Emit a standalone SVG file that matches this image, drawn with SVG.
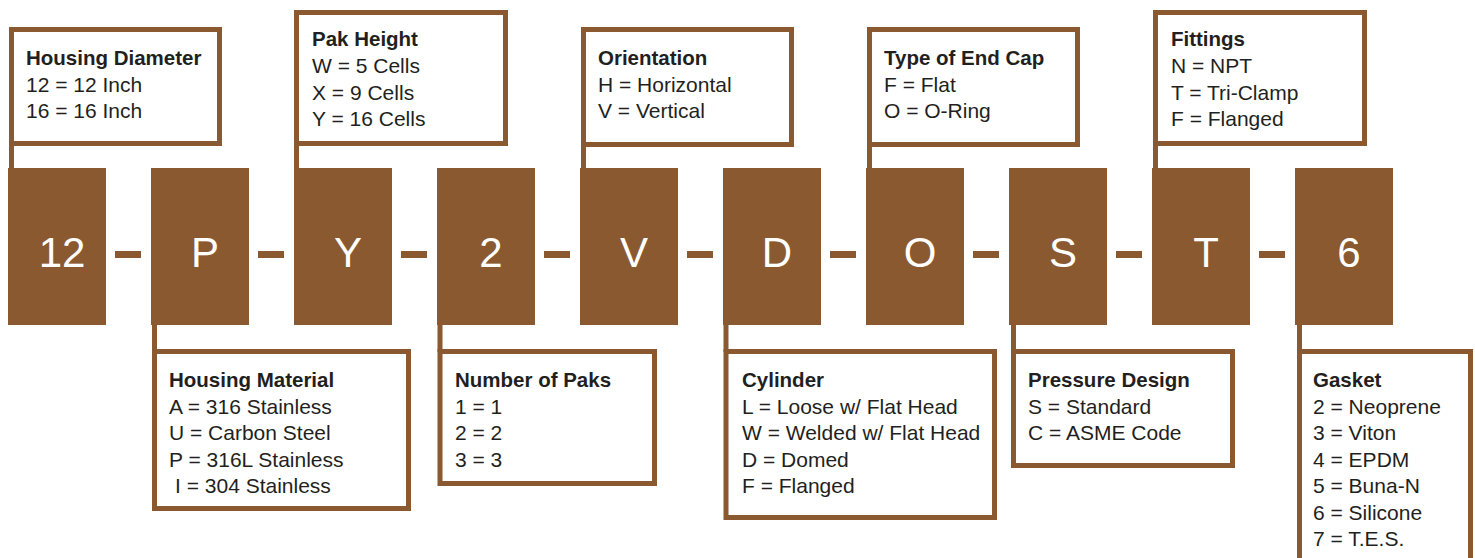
<svg xmlns="http://www.w3.org/2000/svg" width="1475" height="558" viewBox="0 0 1475 558">
<style>
.node{fill:#8a5930}
.code{fill:#ffffff;font-family:"Liberation Sans",Arial,sans-serif;font-size:42px;text-anchor:middle}
.box{fill:#ffffff;stroke:#8a5930;stroke-width:5}
.conn{stroke:#8a5930;stroke-width:5;fill:none}
.dash{fill:#8a5930}
.t{fill:#231f20;font-family:"Liberation Sans",Arial,sans-serif;font-size:21px}
.h{font-weight:bold;font-size:20.5px}
</style>
<rect width="1475" height="558" fill="#ffffff"/>
<g id="connectors">
  <line class="conn" x1="11.5" y1="143" x2="11.5" y2="170"/>
  <line class="conn" x1="296.5" y1="143" x2="296.5" y2="170"/>
  <line class="conn" x1="583.5" y1="143" x2="583.5" y2="170"/>
  <line class="conn" x1="869.5" y1="143" x2="869.5" y2="170"/>
  <line class="conn" x1="1155.5" y1="143" x2="1155.5" y2="170"/>
  <line class="conn" x1="154.5" y1="323" x2="154.5" y2="352"/>
  <line class="conn" x1="440" y1="323" x2="440" y2="352"/>
  <line class="conn" x1="726" y1="323" x2="726" y2="352"/>
  <line class="conn" x1="1013.5" y1="323" x2="1013.5" y2="352"/>
  <line class="conn" x1="1299.5" y1="323" x2="1299.5" y2="352"/>
  <rect class="dash" x="115" y="251" width="26" height="7"/>
  <rect class="dash" x="258" y="251" width="26" height="7"/>
  <rect class="dash" x="401" y="251" width="26" height="7"/>
  <rect class="dash" x="544" y="251" width="26" height="7"/>
  <rect class="dash" x="687" y="251" width="26" height="7"/>
  <rect class="dash" x="830" y="251" width="26" height="7"/>
  <rect class="dash" x="973" y="251" width="26" height="7"/>
  <rect class="dash" x="1116" y="251" width="26" height="7"/>
  <rect class="dash" x="1259" y="251" width="26" height="7"/>
</g>
<g id="node-12"><rect class="node" x="8" y="168" width="98" height="157"/><text class="code" x="62" y="267">12</text></g>
<g id="node-P"><rect class="node" x="151" y="168" width="98" height="157"/><text class="code" x="205" y="267">P</text></g>
<g id="node-Y"><rect class="node" x="294" y="168" width="98" height="157"/><text class="code" x="348" y="267">Y</text></g>
<g id="node-2"><rect class="node" x="437" y="168" width="98" height="157"/><text class="code" x="491" y="267">2</text></g>
<g id="node-V"><rect class="node" x="580" y="168" width="98" height="157"/><text class="code" x="634" y="267">V</text></g>
<g id="node-D"><rect class="node" x="723" y="168" width="98" height="157"/><text class="code" x="777" y="267">D</text></g>
<g id="node-O"><rect class="node" x="866" y="168" width="98" height="157"/><text class="code" x="920" y="267">O</text></g>
<g id="node-S"><rect class="node" x="1009" y="168" width="98" height="157"/><text class="code" x="1063" y="267">S</text></g>
<g id="node-T"><rect class="node" x="1152" y="168" width="98" height="157"/><text class="code" x="1206" y="267">T</text></g>
<g id="node-6"><rect class="node" x="1295" y="168" width="98" height="157"/><text class="code" x="1349" y="267">6</text></g>

<g id="box-housing-diameter">
  <rect class="box" x="11.5" y="29.5" width="208" height="114"/>
  <text class="t h" x="26" y="65">Housing Diameter</text>
  <text class="t" x="26" y="91.5">12 = 12 Inch</text>
  <text class="t" x="26" y="118">16 = 16 Inch</text>
</g>
<g id="box-pak-height">
  <rect class="box" x="296.5" y="12.5" width="209" height="131"/>
  <text class="t h" x="312" y="46">Pak Height</text>
  <text class="t" x="312" y="73">W = 5 Cells</text>
  <text class="t" x="312" y="99.5">X = 9 Cells</text>
  <text class="t" x="312" y="126">Y = 16 Cells</text>
</g>
<g id="box-orientation">
  <rect class="box" x="583.5" y="29.5" width="208" height="115"/>
  <text class="t h" x="598" y="65">Orientation</text>
  <text class="t" x="598" y="91.5">H = Horizontal</text>
  <text class="t" x="598" y="118">V = Vertical</text>
</g>
<g id="box-end-cap">
  <rect class="box" x="869.5" y="29.5" width="208" height="115"/>
  <text class="t h" x="884" y="65">Type of End Cap</text>
  <text class="t" x="884" y="91.5">F = Flat</text>
  <text class="t" x="884" y="118">O = O-Ring</text>
</g>
<g id="box-fittings">
  <rect class="box" x="1155.5" y="12.5" width="209" height="131"/>
  <text class="t h" x="1171" y="46">Fittings</text>
  <text class="t" x="1171" y="73">N = NPT</text>
  <text class="t" x="1171" y="99.5">T = Tri-Clamp</text>
  <text class="t" x="1171" y="126">F = Flanged</text>
</g>

<g id="box-housing-material">
  <rect class="box" x="154.5" y="351.5" width="254" height="157"/>
  <text class="t h" x="169" y="387">Housing Material</text>
  <text class="t" x="169" y="413.5">A = 316 Stainless</text>
  <text class="t" x="169" y="440">U = Carbon Steel</text>
  <text class="t" x="169" y="466.5">P = 316L Stainless</text>
  <text class="t" x="175" y="493">I = 304 Stainless</text>
</g>
<g id="box-number-of-paks">
  <rect class="box" x="440" y="351.5" width="214.5" height="132"/>
  <text class="t h" x="455" y="387">Number of Paks</text>
  <text class="t" x="455" y="413.5">1 = 1</text>
  <text class="t" x="455" y="440">2 = 2</text>
  <text class="t" x="455" y="466.5">3 = 3</text>
</g>
<g id="box-cylinder">
  <rect class="box" x="726" y="351.5" width="268.5" height="166"/>
  <text class="t h" x="742" y="387">Cylinder</text>
  <text class="t" x="742" y="413.5">L = Loose w/ Flat Head</text>
  <text class="t" x="742" y="440">W = Welded w/ Flat Head</text>
  <text class="t" x="742" y="466.5">D = Domed</text>
  <text class="t" x="742" y="493">F = Flanged</text>
</g>
<g id="box-pressure-design">
  <rect class="box" x="1013.5" y="351.5" width="219" height="114"/>
  <text class="t h" x="1028" y="387">Pressure Design</text>
  <text class="t" x="1028" y="413.5">S = Standard</text>
  <text class="t" x="1028" y="440">C = ASME Code</text>
</g>
<g id="box-gasket">
  <rect class="box" x="1299.5" y="351.5" width="171" height="230"/>
  <text class="t h" x="1313" y="387">Gasket</text>
  <text class="t" x="1313" y="413.5">2 = Neoprene</text>
  <text class="t" x="1313" y="440">3 = Viton</text>
  <text class="t" x="1313" y="466.5">4 = EPDM</text>
  <text class="t" x="1313" y="493">5 = Buna-N</text>
  <text class="t" x="1313" y="519.5">6 = Silicone</text>
  <text class="t" x="1313" y="546">7 = T.E.S.</text>
</g>
</svg>
